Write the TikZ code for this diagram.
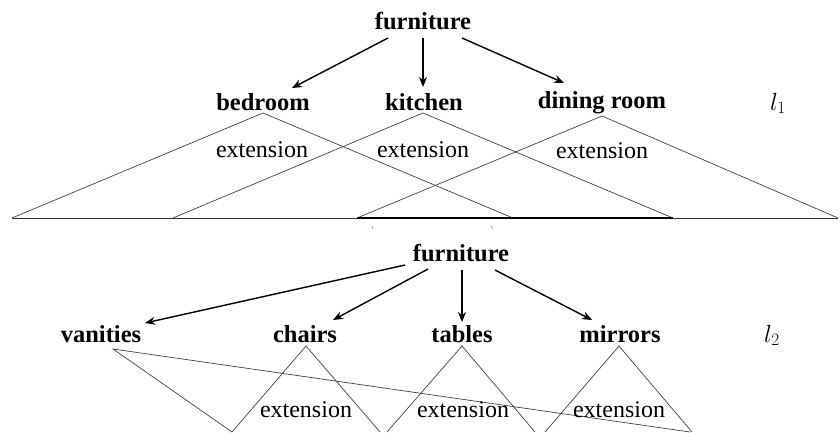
\documentclass[tikz,border=0pt]{standalone}
\usepackage{fontspec}
\setmainfont{Liberation Serif}
\usetikzlibrary{arrows.meta}
\begin{document}
\begin{tikzpicture}[x=1pt,y=-1pt,
  lbl/.style={font=\fontsize{24.5}{28}\selectfont\bfseries, inner sep=0pt, anchor=base},
  ext/.style={font=\fontsize{24}{28}\selectfont, inner sep=0pt, anchor=base},
  arr/.style={-{Stealth[length=10pt,width=8pt]}, line width=1.4pt},
  tri/.style={draw=black!75, line width=0.7pt},
  baseln/.style={draw=black!80, line width=0.8pt},
  thickbase/.style={draw=black, line width=1.6pt},
  speck/.style={draw=black!45, line width=0.6pt}]
\useasboundingbox (0,0) rectangle (840,432);
% ---------- top tree ----------
\node[lbl] (f1) at (423,29) {furniture};
\node[lbl] (bed) at (263,110) {bedroom};
\node[lbl] (kit) at (424,110) {kitchen};
\node[lbl] (din) at (602,108) {dining room};
\node[ext] (l1) at (778,110) {$l_1$};
\draw[arr] ([shift={(-35,9)}]f1.base) -- ([shift={(29,-22)}]bed.base);
\draw[arr] ([shift={(0,9)}]f1.base) -- ([shift={(-1,-23)}]kit.base);
\draw[arr] ([shift={(39,9)}]f1.base) -- ([shift={(-38,-25)}]din.base);
\draw[tri] (12,218) -- (263,113) -- (513,218);
\draw[tri] (173,218) -- (423,113) -- (673,218);
\draw[tri] (357,218) -- (602,116) -- (838,218);
\draw[baseln] (12,218) -- (838,218);
\draw[thickbase] (357,218) -- (673,218);
\node[ext] (e1) at (262,157) {extension};
\node[ext] (e2) at (423,157) {extension};
\node[ext] (e3) at (602,158) {extension};
\draw[speck] (372,226) -- (373,229);
\draw[speck] (491,226) -- (493,229);
% ---------- bottom tree ----------
\node[lbl] (f2) at (461,261) {furniture};
\node[lbl] (van) at (101,342) {vanities};
\node[lbl] (cha) at (305,342) {chairs};
\node[lbl] (tab) at (462,342) {tables};
\node[lbl] (mir) at (620,342) {mirrors};
\node[ext] (l2) at (772,342) {$l_2$};
\draw[arr] ([shift={(-56,4)}]f2.base) -- ([shift={(44,-19)}]van.base);
\draw[arr] ([shift={(-33,8)}]f2.base) -- ([shift={(28,-22)}]cha.base);
\draw[arr] ([shift={(1,9)}]f2.base) -- ([shift={(0,-20)}]tab.base);
\draw[arr] ([shift={(34,9)}]f2.base) -- ([shift={(-28,-22)}]mir.base);
\draw[tri] (232,432) -- (113,349) -- (690,432);
\draw[tri] (232,432) -- (306,346) -- (380,432);
\draw[tri] (387,432) -- (462,346) -- (535,432);
\draw[tri] (545,432) -- (619,346) -- (692,432);
\node[ext] (e4) at (306,417) {extension};
\node[ext] (e5) at (463,417) {extension};
\node[ext] (e6) at (619,417) {extension};
\end{tikzpicture}
\end{document}
